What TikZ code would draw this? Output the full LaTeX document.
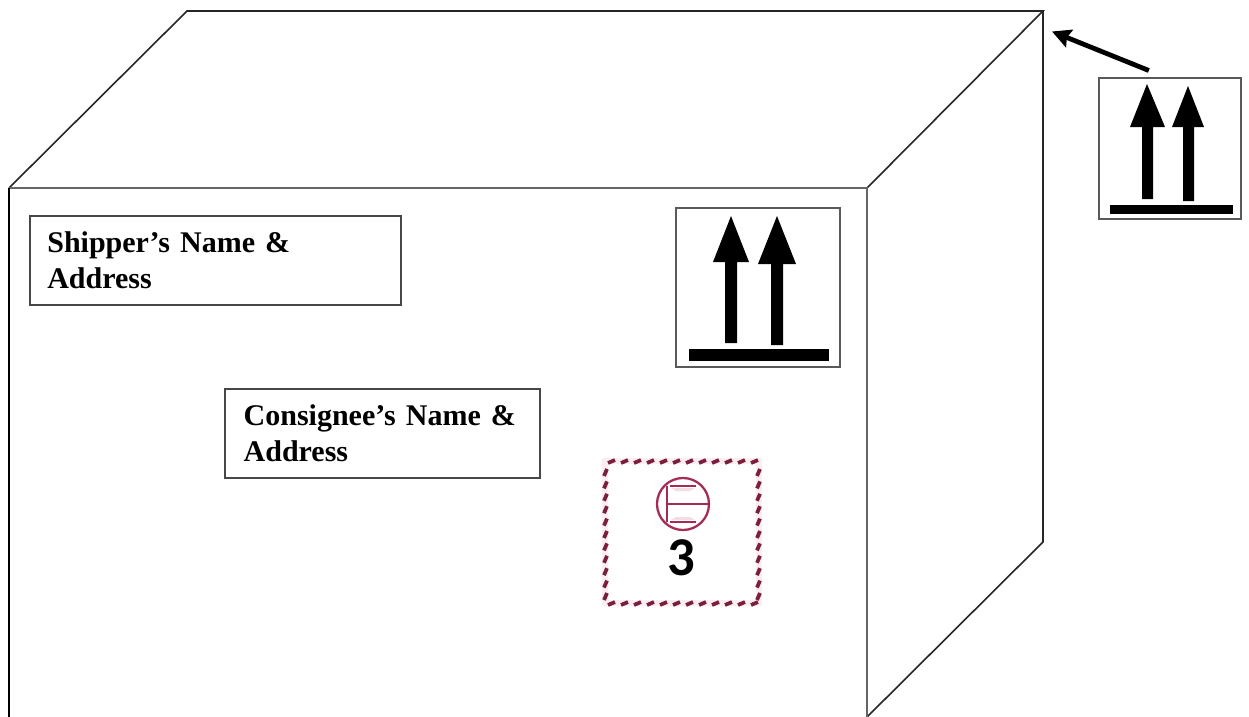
\documentclass[tikz,border=0pt]{standalone}
\usepackage{fontspec}
\setmainfont{Liberation Serif}
\newfontfamily\digitfont{Carlito}
\usetikzlibrary{arrows.meta}
\definecolor{hatchred}{HTML}{7A1F3D}
\definecolor{haloPink}{HTML}{FBEDF0}
\definecolor{circred}{HTML}{A52A55}
\tikzset{
  px/.style={x=0.75pt,y=-0.75pt},
  boxline/.style={draw=black!85,line width=1.2pt,line join=miter},
  frontline/.style={draw=black!60,line width=2pt},
  addr/.style={draw=black!72,line width=1.5pt,fill=white,rectangle,anchor=north west,inner xsep=13pt,inner ysep=0pt,
     align=left,font=\fontsize{22.5}{27}\selectfont\bfseries},
  signbox/.style={draw=black!65,line width=1.4pt,fill=white,rectangle,anchor=north west,inner sep=0pt},
  hatch/.style={draw=hatchred,line width=2.8pt},
  leader/.style={draw=black,line width=3.6pt,-{Stealth[length=14pt,width=14pt,inset=2pt]}}
}
\begin{document}
\begin{tikzpicture}[px]
\useasboundingbox (0,0) rectangle (1249,717);
\fill[white] (0,0) rectangle (1249,717);
% carton
\draw[boxline] (9,188) -- (187,11) -- (1043,11) -- (867,188);
\draw[boxline] (1043,11) -- (1043,542) -- (867,717);
\draw[frontline] (9,188) -- (867,188) -- (867,717);
\draw[draw=black,line width=1.6pt] (9,717) -- (9,188);
% address labels
\node[addr,minimum height=67pt,text width=252pt] (shipper) at (29,215) {Shipper’s Name \&\\Address};
\node[addr,minimum height=67pt,text width=208.5pt,inner xsep=14pt] (consignee) at (224,388) {Consignee’s Name \&\\Address};
% big sign
\node[signbox,minimum width=123pt,minimum height=119.5pt] (bigsign) at (675,207) {};
\fill (731,216) -- (749,262) -- (737,262) -- (737,343) -- (725,343) -- (725,262) -- (713,262) -- cycle;
\fill (777,216) -- (796,264) -- (783,264) -- (783,345) -- (771,345) -- (771,264) -- (758,264) -- cycle;
\fill (689,349) rectangle (829,361);
% small sign
\node[signbox,minimum width=106.5pt,minimum height=106pt] (smallsign) at (1098,77) {};
\fill (1147,84) -- (1165,127) -- (1153,127) -- (1153,199) -- (1142,199) -- (1142,127) -- (1130,127) -- cycle;
\fill (1188,86) -- (1204,127) -- (1194,127) -- (1194,201) -- (1183,201) -- (1183,127) -- (1172,127) -- cycle;
\fill (1110,205) rectangle (1233,214);
% leader
\coordinate (cornertip) at (1052,31.5);
\draw[leader,shorten <=13pt] (smallsign.94.4) -- (cornertip);
% hazard label
\draw[haloPink,line width=4.5pt] (605,461) rectangle (759,603);
\foreach \i in {0,...,11} {
  \draw[hatch] ({608+13*\i},463) -- ({615+13*\i},460);
  \draw[hatch] ({608+13*\i},605) -- ({615+13*\i},602);
}
\foreach \i in {0,...,10} {
  \draw[hatch] (604,{476+12.4*\i}) -- (607,{469+12.4*\i});
  \draw[hatch] (757,{476+12.4*\i}) -- (760,{469+12.4*\i});
}
\node[circle,draw=circred,line width=1.7pt,fill=white,minimum size=39pt,inner sep=0pt] (flame) at (683,504) {};
\fill[haloPink!70!circred!45] (671,488) -- (695,488) -- (690,491) -- (676,491) -- cycle;
\fill[haloPink!70!circred!45] (671,520) -- (695,520) -- (690,517) -- (676,517) -- cycle;
\draw[circred,line width=1.2pt] (667,486) -- (667,522);
\draw[circred,line width=1.2pt] (667,504) -- (flame.east);
\draw[circred,line width=1.2pt] (670,486) -- (696,486);
\draw[circred,line width=1.2pt] (670,522) -- (696,522);
\node[inner sep=0pt,font=\digitfont\bfseries\fontsize{41}{41}\selectfont] (classnum) at (681,558) {3};
\end{tikzpicture}
\end{document}
